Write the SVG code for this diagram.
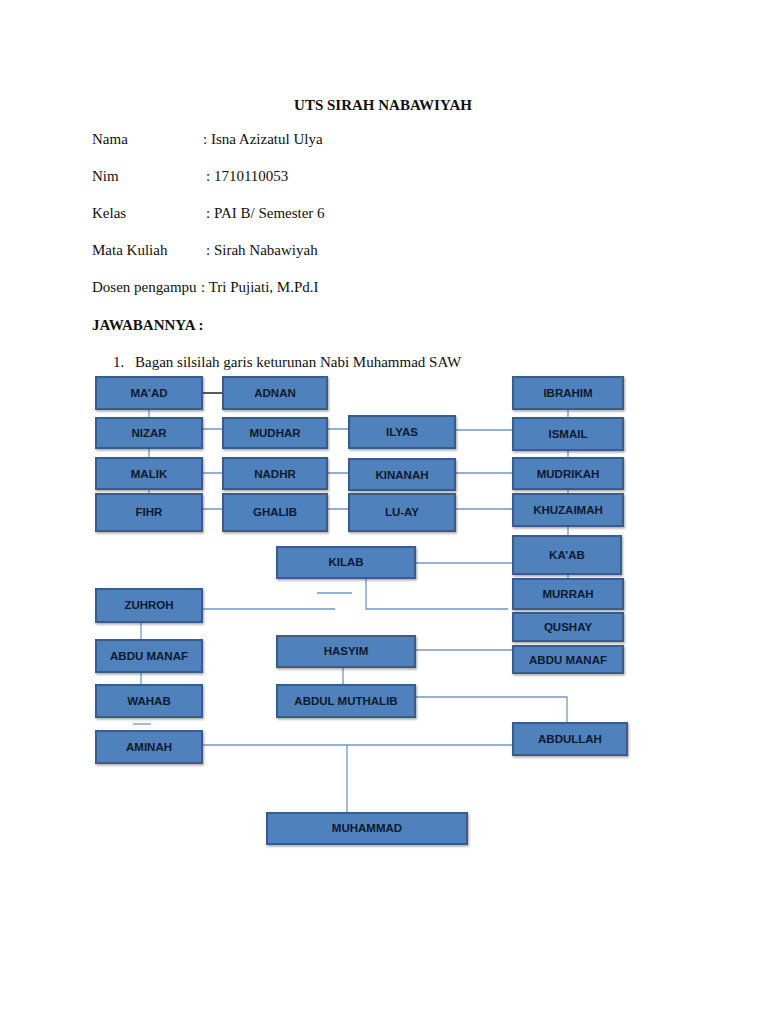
<svg xmlns="http://www.w3.org/2000/svg" width="768" height="1024" viewBox="0 0 768 1024">
<defs>
<filter id="sh" x="-10%" y="-20%" width="130%" height="150%">
<feDropShadow dx="1" dy="1.5" stdDeviation="1" flood-color="#000" flood-opacity="0.35"/>
</filter>
<style>
.doc{font-family:"Liberation Serif","Times New Roman",serif;font-size:15px;fill:#111}
.b{font-weight:bold}
.box rect{fill:#4f81bd;stroke:#385d8a;stroke-width:2;filter:url(#sh)}
.box text{font-family:"Liberation Sans",Arial,sans-serif;font-weight:bold;font-size:11.5px;fill:#0c1a2e;text-anchor:middle;dominant-baseline:central}
.c{stroke:#7098cb;stroke-width:1.3;fill:none}
.k{stroke:#000;stroke-width:1.3;fill:none}
</style>
</defs>
<rect width="768" height="1024" fill="#fff"/>
<g id="header">
<text class="doc b" x="383" y="110" text-anchor="middle">UTS SIRAH NABAWIYAH</text>
<text class="doc" x="92" y="144">Nama</text><text class="doc" x="203" y="144">: Isna Azizatul Ulya</text>
<text class="doc" x="92" y="181">Nim</text><text class="doc" x="206" y="181">: 1710110053</text>
<text class="doc" x="92" y="218">Kelas</text><text class="doc" x="206" y="218">: PAI B/ Semester 6</text>
<text class="doc" x="92" y="255">Mata Kuliah</text><text class="doc" x="206" y="255">: Sirah Nabawiyah</text>
<text class="doc" x="92" y="292">Dosen pengampu</text><text class="doc" x="201" y="292">: Tri Pujiati, M.Pd.I</text>
<text class="doc b" x="92" y="330">JAWABANNYA :</text>
<text class="doc" x="113" y="367">1.</text><text class="doc" x="135" y="367">Bagan silsilah garis keturunan Nabi Muhammad SAW</text>
</g>
<g id="connectors">
<path class="k" d="M202 393H223"/>
<path class="c" d="M149 409V494"/>
<path class="c" d="M202 429H223M327 429H349M455 430H513"/>
<path class="c" d="M202 473H223M327 473H349M455 473H513"/>
<path class="c" d="M202 509H223M327 509H349M455 509H513"/>
<path class="c" d="M568 409V579"/>
<path class="c" d="M415 563H513"/>
<path class="c" d="M366 578V609H508"/>
<path class="c" d="M317 593H352"/>
<path class="c" d="M202 609H335"/>
<path class="c" d="M141 622V685"/>
<path class="c" d="M133 724H151"/>
<path class="c" d="M415 650H513"/>
<path class="c" d="M343 667V685"/>
<path class="c" d="M415 697H567V723"/>
<path class="c" d="M202 745H513"/>
<path class="c" d="M347 745V813"/>
</g>
<g id="n-maad" class="box"><rect x="96" y="377" width="106" height="32"/><text x="149" y="393">MA’AD</text></g>
<g id="n-adnan" class="box"><rect x="223" y="377" width="104" height="32"/><text x="275" y="393">ADNAN</text></g>
<g id="n-ibrahim" class="box"><rect x="513" y="377" width="110" height="32"/><text x="568" y="393">IBRAHIM</text></g>
<g id="n-nizar" class="box"><rect x="96" y="418" width="106" height="30"/><text x="149" y="433">NIZAR</text></g>
<g id="n-mudhar" class="box"><rect x="223" y="418" width="104" height="30"/><text x="275" y="433">MUDHAR</text></g>
<g id="n-ilyas" class="box"><rect x="349" y="416" width="106" height="32"/><text x="402" y="432">ILYAS</text></g>
<g id="n-ismail" class="box"><rect x="513" y="418" width="110" height="32"/><text x="568" y="434">ISMAIL</text></g>
<g id="n-malik" class="box"><rect x="96" y="458" width="106" height="31"/><text x="149" y="474">MALIK</text></g>
<g id="n-nadhr" class="box"><rect x="223" y="458" width="104" height="31"/><text x="275" y="474">NADHR</text></g>
<g id="n-kinanah" class="box"><rect x="349" y="459" width="106" height="31"/><text x="402" y="475">KINANAH</text></g>
<g id="n-mudrikah" class="box"><rect x="513" y="458" width="110" height="31"/><text x="568" y="474">MUDRIKAH</text></g>
<g id="n-fihr" class="box"><rect x="96" y="494" width="106" height="37"/><text x="149" y="512">FIHR</text></g>
<g id="n-ghalib" class="box"><rect x="223" y="494" width="104" height="37"/><text x="275" y="512">GHALIB</text></g>
<g id="n-luay" class="box"><rect x="349" y="494" width="106" height="37"/><text x="402" y="512">LU-AY</text></g>
<g id="n-khuzaimah" class="box"><rect x="513" y="494" width="110" height="32"/><text x="568" y="510">KHUZAIMAH</text></g>
<g id="n-kilab" class="box"><rect x="277" y="547" width="138" height="31"/><text x="346" y="562">KILAB</text></g>
<g id="n-kaab" class="box"><rect x="513" y="536" width="108" height="38"/><text x="567" y="555">KA’AB</text></g>
<g id="n-murrah" class="box"><rect x="513" y="579" width="110" height="30"/><text x="568" y="594">MURRAH</text></g>
<g id="n-qushay" class="box"><rect x="513" y="613" width="110" height="28"/><text x="568" y="627">QUSHAY</text></g>
<g id="n-abdumanaf2" class="box"><rect x="513" y="646" width="110" height="27"/><text x="568" y="660">ABDU MANAF</text></g>
<g id="n-zuhroh" class="box"><rect x="96" y="589" width="106" height="33"/><text x="149" y="605">ZUHROH</text></g>
<g id="n-abdumanaf1" class="box"><rect x="96" y="640" width="106" height="32"/><text x="149" y="656">ABDU MANAF</text></g>
<g id="n-hasyim" class="box"><rect x="277" y="636" width="138" height="31"/><text x="346" y="651">HASYIM</text></g>
<g id="n-wahab" class="box"><rect x="96" y="685" width="106" height="32"/><text x="149" y="701">WAHAB</text></g>
<g id="n-abdulmuthalib" class="box"><rect x="277" y="685" width="138" height="32"/><text x="346" y="701">ABDUL MUTHALIB</text></g>
<g id="n-aminah" class="box"><rect x="96" y="731" width="106" height="32"/><text x="149" y="747">AMINAH</text></g>
<g id="n-abdullah" class="box"><rect x="513" y="723" width="114" height="32"/><text x="570" y="739">ABDULLAH</text></g>
<g id="n-muhammad" class="box"><rect x="267" y="813" width="200" height="31"/><text x="367" y="828">MUHAMMAD</text></g>
</svg>
